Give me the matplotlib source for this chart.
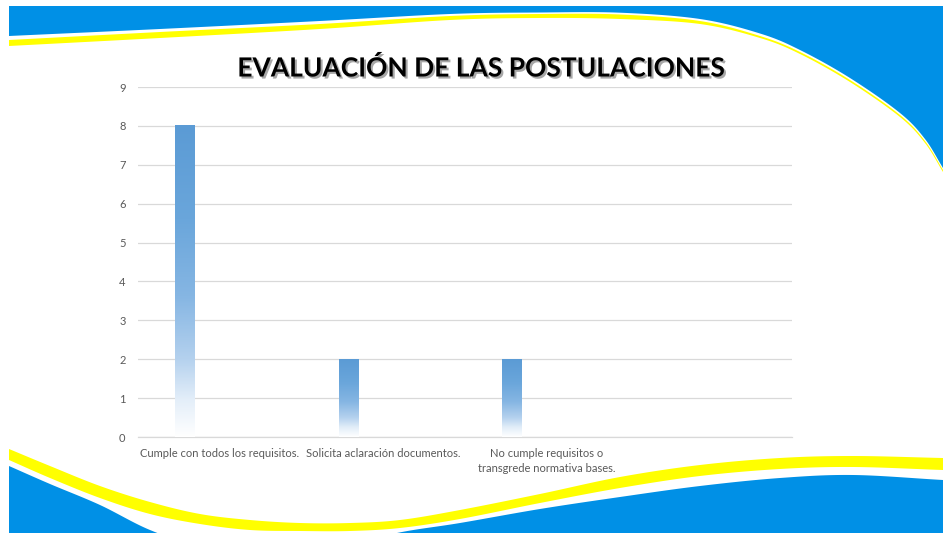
import numpy as np
import matplotlib
matplotlib.use("Agg")
import matplotlib.pyplot as plt
from matplotlib import font_manager
from matplotlib.colors import LinearSegmentedColormap
import matplotlib.patheffects as pe

# ---------------- data ----------------
categories = ["Cumple con todos los requisitos.",
              "Solicita aclaración documentos.",
              "No cumple requisitos o\ntransgrede normativa bases.",
              ""]
values = [8, 2, 2, None]
yticks = list(range(0, 10))
title = "EVALUACIÓN DE LAS POSTULACIONES"

# ---------------- fonts ----------------
avail = {f.name for f in font_manager.fontManager.ttflist}
def pick(*names):
    for n in names:
        if n in avail:
            return n
    return "DejaVu Sans"
label_font = pick("Liberation Sans Narrow", "Lato", "Open Sans")
title_font = pick("Lato", "Open Sans", "DejaVu Sans")

W, H = 943, 533
fig = plt.figure(figsize=(W / 100, H / 100), dpi=100)
fig.patch.set_facecolor("white")

# ---------------- decorative background ----------------
bg = fig.add_axes([0, 0, 1, 1], zorder=0)
bg.set_xlim(0, W)
bg.set_ylim(H, 0)
bg.axis("off")

def smooth(pts, n=24):
    P = np.array(pts, float)
    P = np.vstack([2 * P[0] - P[1], P, 2 * P[-1] - P[-2]])
    out = []
    t = np.linspace(0, 1, n, endpoint=False)[:, None]
    for i in range(1, len(P) - 2):
        p0, p1, p2, p3 = P[i - 1], P[i], P[i + 1], P[i + 2]
        out.append(0.5 * ((2 * p1) + (-p0 + p2) * t
                          + (2 * p0 - 5 * p1 + 4 * p2 - p3) * t ** 2
                          + (-p0 + 3 * p1 - 3 * p2 + p3) * t ** 3))
    out.append(P[-2][None])
    return np.vstack(out)

BLUE = "#0090E6"
YEL = "#FFFF00"
X0, Y0 = 9, 6

# top wave
top_yel_low = [(X0, 46), (160, 38), (320, 29), (450, 20), (540, 18), (620, 19), (700, 24),
               (760, 38), (800, 54), (850, 82), (900, 117), (925, 143), (943, 172)]
top_yel_high = [(X0, 40), (160, 32), (320, 24), (450, 16), (540, 14), (620, 14.5), (700, 21),
                (760, 36), (800, 52), (850, 80), (900, 115), (925, 141), (943, 170)]
top_blue = [(X0, 36), (160, 29), (320, 21), (450, 14), (540, 12.5), (620, 12.7), (700, 19),
            (760, 33.5), (800, 50), (850, 78), (900, 113), (925, 139), (943, 168)]

def top_poly(pts, color):
    c = smooth(pts)
    poly = np.vstack([c, [(W, Y0), (X0, Y0)]])
    bg.fill(poly[:, 0], poly[:, 1], color=color, lw=0)

top_poly(top_yel_low, YEL)
top_poly(top_yel_high, "white")
top_poly(top_blue, BLUE)

# bottom wave
bot_yel_top = [(X0, 449), (50, 466), (100, 486), (150, 502), (200, 514), (250, 520),
               (300, 523), (350, 523), (400, 520), (460, 510), (540, 494), (620, 477),
               (700, 465), (780, 458), (853, 456), (943, 458)]
bot_yel_bot = [(X0, 460), (50, 478), (100, 498), (150, 514), (200, 524), (250, 530),
               (300, 531), (350, 531), (400, 528), (460, 519), (540, 503), (620, 488),
               (700, 476), (780, 469), (853, 467), (943, 470)]
bot_blue = [(X0, 466), (50, 484), (100, 505), (150, 530), (200, 546), (270, 554),
            (340, 548), (397, 533), (460, 523), (540, 509), (620, 497), (700, 486),
            (780, 478), (853, 475), (943, 480)]

def bot_poly(pts, color):
    c = smooth(pts)
    poly = np.vstack([c, [(W, H + 40), (X0, H + 40)]])
    bg.fill(poly[:, 0], poly[:, 1], color=color, lw=0)

bot_poly(bot_yel_top, YEL)
bot_poly(bot_yel_bot, "white")
bot_poly(bot_blue, BLUE)

# ---------------- chart ----------------
left, right = 138 / W, 792 / W
bottom, top = (H - 437) / H, (H - 87) / H
ax = fig.add_axes([left, bottom, right - left, top - bottom], zorder=2)
ax.patch.set_alpha(0)

x = np.arange(len(categories))
ax.set_xlim(-0.5, len(categories) - 0.5)
ax.set_ylim(0, 9)
ax.set_yticks(yticks)
ax.set_yticklabels([str(v) for v in yticks])
ax.set_xticks(x)
ax.set_xticklabels(categories, fontfamily=label_font, fontsize=8, color="#595959",
                   linespacing=1.45, va="top")
for lab in ax.get_yticklabels():
    lab.set_fontfamily(label_font)
    lab.set_fontsize(8)
    lab.set_color("#595959")
ax.tick_params(axis="both", length=0)
ax.tick_params(axis="y", pad=9)
ax.tick_params(axis="x", pad=8)
for s in ["top", "right", "left"]:
    ax.spines[s].set_visible(False)
ax.spines["bottom"].set_color("#D9D9D9")
ax.spines["bottom"].set_linewidth(0.9)
ax.grid(axis="y", color="#D9D9D9", linewidth=0.9)
ax.set_axisbelow(True)

cmap = LinearSegmentedColormap.from_list(
    "barfade",
    [(0.0, "#FFFFFF"), (0.12, "#E3EEF9"), (0.25, "#B4D1EE"), (0.45, "#86B6E3"),
     (0.7, "#6AA6DB"), (1.0, "#5B9BD5")])
grad = np.linspace(0, 1, 256)[:, None]

offset = -0.2125
bw = 0.122
for xi, v in zip(x, values):
    if v is None:
        continue
    xc = xi + offset
    ax.imshow(grad, cmap=cmap, origin="lower", aspect="auto",
              extent=(xc - bw / 2, xc + bw / 2, 0, v), zorder=3, interpolation="bilinear")
ax.set_xlim(-0.5, len(categories) - 0.5)
ax.set_ylim(0, 9)

# ---------------- title ----------------
fig.text(481 / W, 1 - 68 / H, title, ha="center", va="center", fontsize=19,
         fontweight="bold", fontfamily=title_font, color="black", zorder=5,
         path_effects=[pe.withSimplePatchShadow(offset=(1.5, -1.5), shadow_rgbFace="#606060",
                                                alpha=0.55)])

fig.savefig("out.png", dpi=100, facecolor="white")
